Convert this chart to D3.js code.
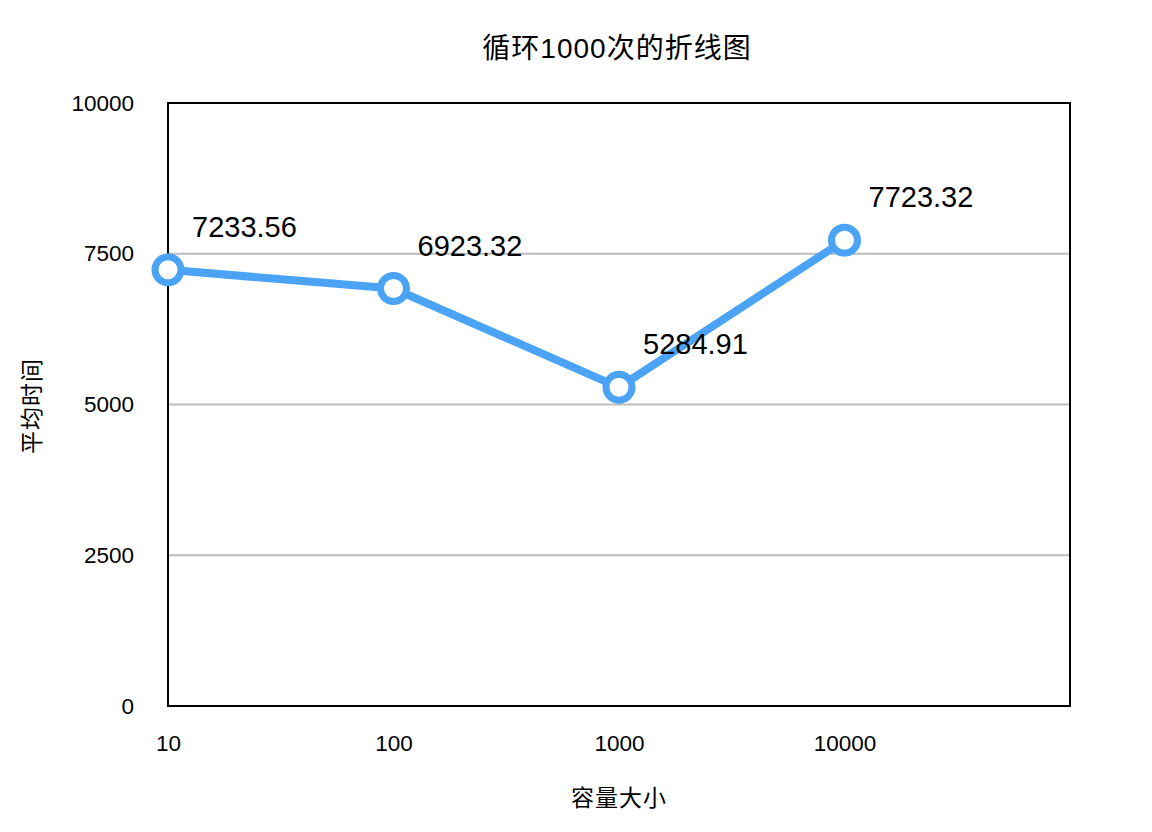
<!DOCTYPE html>
<html><head><meta charset="utf-8">
<script src="https://cdn.jsdelivr.net/npm/d3@7"></script>
<style>body{margin:0;background:#fff;} text{font-family:"Liberation Sans","Noto Sans CJK SC",sans-serif;}</style>
</head><body>
<svg id="c" width="1152" height="832"></svg>
<script>
const categories = ["10","100","1000","10000"];
const values = [7233.56, 6923.32, 5284.91, 7723.32];
const yTicks = [0, 2500, 5000, 7500, 10000];
const title = "循环1000次的折线图";
const xTitle = "容量大小";
const yTitle = "平均时间";

const svg = d3.select("#c");
const L = 168, R = 1070, T = 103, B = 706;
const x = d3.scaleLinear().domain([0, 4]).range([L, R]);
const y = d3.scaleLinear().domain([0, 10000]).range([B, T]);
const blue = "#4aa3f5";

// grid
svg.append("g").selectAll("line").data(yTicks.filter(t => t > 0 && t < 10000)).join("line")
  .attr("x1", L).attr("x2", R).attr("y1", d => y(d)).attr("y2", d => y(d))
  .attr("stroke", "#bdbdbd").attr("stroke-width", 2);

// axes (labels only)
const yAxis = d3.axisLeft(y).tickValues(yTicks).tickSize(0).tickPadding(34).tickFormat(d3.format("d"));
const gy = svg.append("g").attr("transform", `translate(${L},0)`).call(yAxis);
gy.select(".domain").remove();
gy.selectAll("text").attr("font-size", 22.5).attr("fill", "#000");

const xAxis = d3.axisBottom(x).tickValues(d3.range(categories.length)).tickFormat(i => categories[i]).tickSize(0).tickPadding(29);
const gx = svg.append("g").attr("transform", `translate(0,${B})`).call(xAxis);
gx.select(".domain").remove();
gx.selectAll("text").attr("font-size", 22.5).attr("fill", "#000");

// frame
svg.append("rect").attr("x", L).attr("y", T).attr("width", R - L).attr("height", B - T)
  .attr("fill", "none").attr("stroke", "#000").attr("stroke-width", 2);

// line
const line = d3.line().x((d, i) => x(i)).y(d => y(d));
svg.append("path").datum(values).attr("d", line).attr("fill", "none")
  .attr("stroke", blue).attr("stroke-width", 8).attr("stroke-linejoin", "round");

svg.append("g").selectAll("circle").data(values).join("circle")
  .attr("cx", (d, i) => x(i)).attr("cy", d => y(d)).attr("r", 13)
  .attr("fill", "#fff").attr("stroke", blue).attr("stroke-width", 7);

svg.append("g").selectAll("text").data(values).join("text")
  .attr("x", (d, i) => x(i) + 24).attr("y", d => y(d) - 33)
  .attr("font-size", 29).attr("fill", "#000").text(d => d3.format(".2f")(d));

// titles
svg.append("text").attr("x", 617).attr("y", 58).attr("text-anchor", "middle")
  .attr("font-size", 28).attr("letter-spacing", 1).attr("fill", "#000").text(title);
svg.append("text").attr("x", 619).attr("y", 806).attr("text-anchor", "middle")
  .attr("font-size", 23).attr("letter-spacing", 1).attr("fill", "#000").text(xTitle);
svg.append("text").attr("transform", "translate(40,406) rotate(-90)").attr("text-anchor", "middle")
  .attr("font-size", 23).attr("letter-spacing", 1).attr("fill", "#000").text(yTitle);
</script>
</body></html>
